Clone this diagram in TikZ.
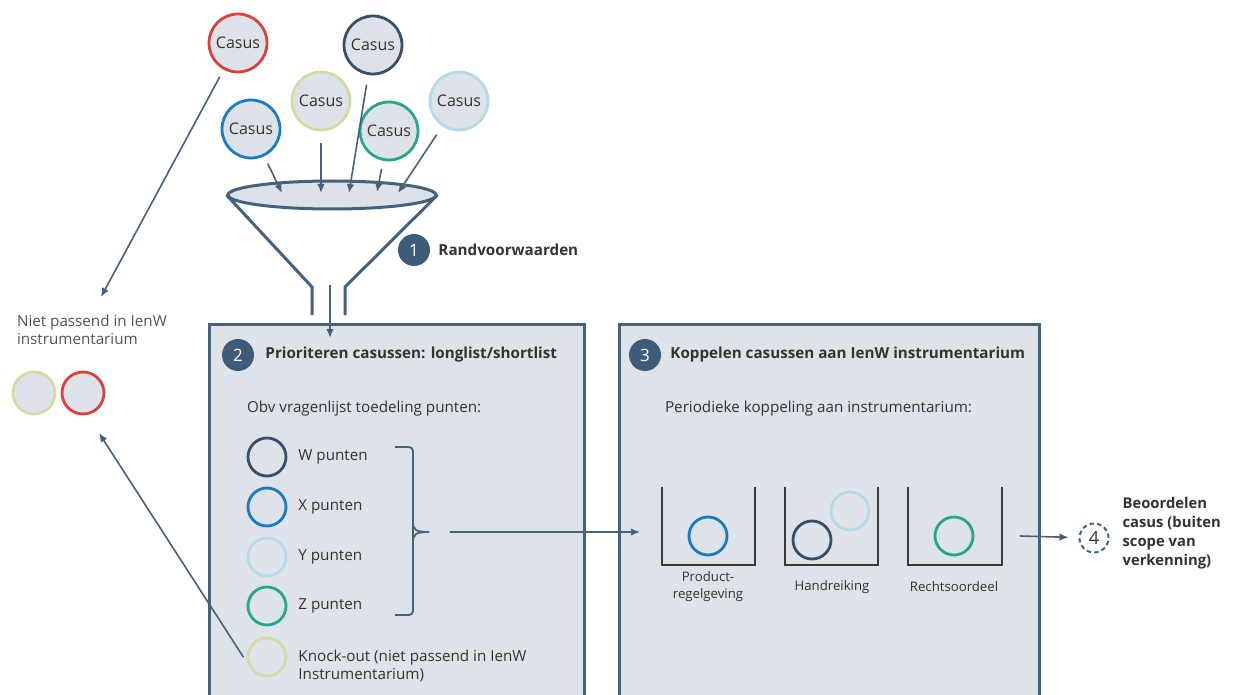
\documentclass[tikz,border=0pt]{standalone}
\usepackage{fontspec}
\setmainfont{Open Sans}
\usetikzlibrary{positioning,shapes.geometric,arrows.meta}
\definecolor{slate}{HTML}{46617A}
\definecolor{panelfill}{HTML}{DDE3E9}
\definecolor{pale}{HTML}{DDE2E8}
\definecolor{ink}{HTML}{333333}
\definecolor{cred}{HTML}{D8413F}
\definecolor{cnavy}{HTML}{3A4F66}
\definecolor{cblue}{HTML}{1B7BC1}
\definecolor{ckhaki}{HTML}{D3DBA3}
\definecolor{cteal}{HTML}{28A68C}
\definecolor{clight}{HTML}{B5DAE6}
\definecolor{badgeblue}{HTML}{3E5C7A}
\definecolor{binline}{HTML}{3A3A3A}
\begin{document}
\begin{tikzpicture}[x=0.5pt,y=-0.5pt,
    flow/.style={-{Latex[length=4.5pt,width=3.8pt]}, line width=0.8pt, draw=slate},
    casus/.style={circle, minimum size=29pt, inner sep=0pt, line width=1.4pt, fill=pale, text=ink, font=\fontsize{8}{9}\selectfont},
    ring/.style={circle, minimum size=19pt, inner sep=0pt, line width=1.4pt},
    badge/.style={circle, minimum size=16pt, inner sep=0pt, fill=badgeblue, text=white, font=\fontsize{8.5}{9}\selectfont},
    head/.style={anchor=west, text=ink, font=\bfseries\fontsize{7.6}{9}\selectfont},
    body/.style={anchor=west, align=left, text=ink, font=\fontsize{7.6}{9}\selectfont},
    binlabel/.style={align=center, text=ink, font=\fontsize{6.6}{8.5}\selectfont},
    panel/.style={line width=1.5pt, draw=slate},
    bin/.style={line width=0.8pt, draw=binline},
    brace/.style={line width=0.9pt, draw=slate}
]

\useasboundingbox (0,0) rectangle (1235,695);

\fill[panelfill] (209,324) rectangle (584,695);
\draw[panel] (209,695) |- (584,324) -- (584,695);
\fill[panelfill] (619,324) rectangle (1039,695);
\draw[panel] (619,695) |- (1039,324) -- (1039,695);

\node[casus, draw=cred] (casred) at (238,43) {Casus};
\node[casus, draw=cnavy] (casnavy) at (373,45) {Casus};
\node[casus, draw=cblue] (casblue) at (251,129) {Casus};
\node[casus, draw=ckhaki] (caskhaki) at (321,101) {Casus};
\node[casus, draw=cteal] (casteal) at (389,131) {Casus};
\node[casus, draw=clight] (caslight) at (459,101) {Casus};

\node[ellipse, draw=slate, line width=1.5pt, fill=pale, minimum width=104pt, minimum height=14pt, inner sep=0pt] (rim) at (332,195) {};
\draw[slate, line width=1.5pt] (rim.west) -- (312,287) -- (312,315);
\draw[slate, line width=1.5pt] (rim.east) -- (345,287) -- (345,315);

\coordinate (rimA) at (282,193);
\coordinate (rimB) at (321,193);
\coordinate (rimC) at (349,193);
\coordinate (rimD) at (377,192);
\coordinate (rimE) at (398,193);
\draw[flow, shorten <=4pt] (casblue) -- (rimA);
\draw[flow, shorten <=6pt] (caskhaki) -- (rimB);
\draw[flow, shorten <=5pt] (casnavy) -- (rimC);
\draw[flow, shorten <=4pt] (casteal) -- (rimD);
\draw[flow, shorten <=5pt] (caslight) -- (rimE);

\coordinate (spout) at (330,285);
\coordinate (into2) at (330,338);
\draw[flow] (spout) -- (into2);

\node[badge] (n1) at (414,250) {1};
\node[head, right=0.5pt of n1] {Randvoorwaarden};

\node[badge] (n2) at (238,355) {2};
\node[head, right=2pt of n2] {Prioriteren casussen: longlist/shortlist};
\node[body] at (240,409) {Obv vragenlijst toedeling punten:};

\foreach \n/\y/\c/\t in {w/457/cnavy/W punten, x/507/cblue/X punten, y/557/clight/Y punten, z/606/cteal/Z punten}{
  \node[ring, draw=\c] (r\n) at (267,\y) {};
  \node[body, right=2pt of r\n] {\t};
}
\node[ring, draw=ckhaki] (rko) at (267,657) {};
\node[body, right=2pt of rko, yshift=-4.5pt] {Knock-out (niet passend in IenW\\Instrumentarium)};

\draw[brace, rounded corners=2pt] (395,447) -- (413,447) -- (413,615) -- (395,615);
\draw[brace] (413,522) .. controls (413,530) and (416,532) .. (429,532);
\draw[brace] (413,542) .. controls (413,534) and (416,532) .. (429,532);

\node[badge] (n3) at (645,355) {3};
\node[head, right=1pt of n3] {Koppelen casussen aan IenW instrumentarium};
\node[body] at (658,409) {Periodieke koppeling aan instrumentarium:};

\foreach \l/\r in {662/755, 785/878, 908/1002}
  \draw[bin] (\l,487) |- (\r,565) -- (\r,487);
\node[ring, draw=cblue] (bprod) at (708,536) {};
\node[ring, draw=cnavy] (bhandA) at (812,540) {};
\node[ring, draw=clight] (bhandB) at (850,511) {};
\node[ring, draw=cteal] (brecht) at (954,536) {};
\node[binlabel] (lprod) at (708,587) {Product-\\regelgeving};
\node[binlabel] (lhand) at (832,587) {Handreiking};
\node[binlabel] (lrecht) at (954,587) {Rechtsoordeel};

\coordinate (brk) at (450,532);
\coordinate (into3) at (640,532);
\draw[flow] (brk) -- (into3);

\node[circle, draw=slate, dashed, dash pattern=on 2.2pt off 1.6pt, line width=1pt, minimum size=14.5pt, inner sep=0pt, text=ink, font=\fontsize{9}{9}\selectfont] (n4) at (1094,538) {4};
\node[head, align=left, right=3pt of n4, yshift=2.5pt, font=\bfseries\fontsize{7.4}{9.4}\selectfont] {Beoordelen\\casus (buiten\\scope van\\verkenning)};
\coordinate (out3) at (1020,536);
\draw[flow, shorten >=5pt] (out3) -- (n4);

\node[body, anchor=north west, text=ink!85] (niet) at (10,308) {Niet passend in IenW\\instrumentarium};
\node[ring, minimum size=21pt, fill=pale, draw=ckhaki] (outkhaki) at (34,393) {};
\node[ring, minimum size=21pt, fill=pale, draw=cred] (outred) at (83,393) {};

\coordinate (nietin) at (101,297);
\draw[flow, shorten <=4pt] (casred) -- (nietin);
\coordinate (koout) at (99,433);
\draw[flow, shorten <=4pt] (rko.200) -- (koout);

\end{tikzpicture}
\end{document}
